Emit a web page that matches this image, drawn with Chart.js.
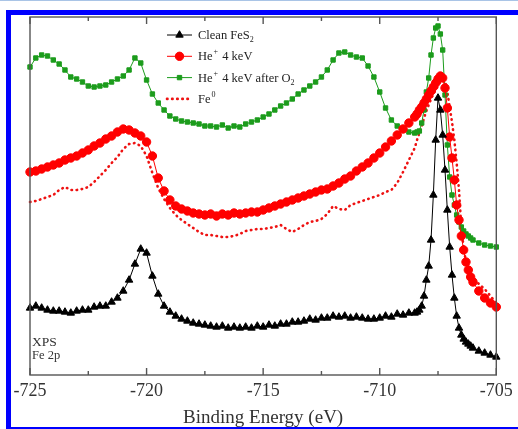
<!DOCTYPE html>
<html>
<head>
<meta charset="utf-8">
<script src="https://cdn.jsdelivr.net/npm/chart.js@4.4.0/dist/chart.umd.min.js"></script>
<style>
html, body { margin: 0; padding: 0; background: #fff; }
#wrap { position: relative; width: 518px; height: 429px; overflow: hidden; }
#topline { position: absolute; left: 0; top: 0; width: 518px; height: 1px; background: #a9c4e6; }
#frame { position: absolute; left: 6px; top: 10px; width: 520px; height: 412px;
  border-left: 5px solid #0000ff; border-top: 5px solid #0000ff; border-bottom: 2px solid #0000ff; pointer-events: none; }
canvas { position: absolute; left: 0; top: 0; }
</style>
</head>
<body>
<div id="wrap">
  <canvas id="xps" width="518" height="429"></canvas>
  <div id="topline"></div>
  <div id="frame"></div>
</div>
<script>
// binding energy grid (eV), shared by all spectra
const energy = [
  -725, -724.75, -724.5, -724.25, -724, -723.75, -723.5, -723.25, -723, -722.75,
  -722.5, -722.25, -722, -721.75, -721.5, -721.25, -721, -720.75, -720.5, -720.25,
  -720, -719.75, -719.5, -719.25, -719, -718.75, -718.5, -718.25, -718, -717.75,
  -717.5, -717.25, -717, -716.75, -716.5, -716.25, -716, -715.75, -715.5, -715.25,
  -715, -714.75, -714.5, -714.25, -714, -713.75, -713.5, -713.25, -713, -712.75,
  -712.5, -712.25, -712, -711.75, -711.5, -711.25, -711, -710.75, -710.5, -710.25,
  -710, -709.75, -709.5, -709.25, -709, -708.75, -708.5,
  -708.4, -708.3, -708.2, -708.1, -708, -707.9, -707.8, -707.7, -707.6, -707.5,
  -707.4, -707.3, -707.2, -707.1, -707, -706.9, -706.8, -706.7, -706.6, -706.5,
  -706.4, -706.3, -706.2, -706.1, -706,
  -705.75, -705.5, -705.25, -705
];

// intensities (arb. units, offset for display)
const cleanFeS2 = [
  67, 69, 67, 65, 64, 64, 63, 62, 64, 65,
  65, 68, 69, 69, 73, 77, 84, 95, 111, 126,
  122, 99, 81, 69, 63, 59, 56, 54, 52, 51,
  50, 49, 48, 49, 47, 48, 47, 48, 47, 49,
  48, 50, 49, 51, 51, 53, 53, 54, 56, 55,
  57, 57, 59, 58, 59, 57, 58, 57, 56, 56,
  57, 59, 58, 61, 60, 62, 62,
  63, 65, 69, 79, 95, 109, 135, 180, 235, 277,
  265, 240, 205, 165, 128, 100, 77, 59, 47, 40,
  36, 33, 31, 29, 27,
  24, 22, 20, 18
];
const heIon = [
  203, 204, 206, 208, 210, 212, 215, 217, 219, 222,
  225, 229, 232, 236, 239, 243, 246, 245, 242, 239,
  233, 219, 197, 184, 175, 169, 166, 164, 162, 161,
  160, 161, 159, 161, 160, 162, 161, 162, 163, 163,
  165, 167, 169, 171, 173, 175, 177, 179, 181, 183,
  185, 186, 189, 192, 196, 199, 204, 208, 212, 217,
  222, 228, 234, 240, 246, 252, 258,
  261, 265, 268, 272, 276, 280, 284, 288, 292, 296,
  299, 297, 287, 267, 238, 217, 195, 170, 155, 139,
  125, 113, 105, 98, 93,
  84, 77, 72, 68
];
const heIonO2 = [
  308, 317, 320, 319, 315, 311, 305, 298, 296, 293,
  289, 288, 289, 290, 293, 296, 299, 305, 317, 312,
  295, 281, 272, 265, 259, 256, 254, 253, 252, 251,
  249, 249, 248, 250, 247, 249, 248, 251, 253, 255,
  258, 261, 265, 269, 272, 276, 281, 285, 289, 293,
  298, 305, 315, 322, 323, 320, 318, 317, 309, 298,
  283, 267, 255, 249, 246, 243, 242,
  243, 244, 252, 265, 283, 297, 320, 337, 347, 349,
  341, 325, 280, 230, 198, 180, 170, 160, 153, 148,
  144, 141, 139, 137, 135,
  132, 130, 129, 128
];
const fe0 = [
  173, 174, 176, 178, 180, 185, 188, 185, 185, 186,
  188, 193, 199, 205, 212, 218, 226, 231, 232, 229,
  219, 202, 187, 176, 167, 160, 155, 151, 147, 143,
  140, 140, 139, 138, 138, 139, 141, 144, 145, 146,
  146, 147, 148, 150, 146, 143, 146, 150, 153, 154,
  156, 161, 169, 166, 165, 170, 172, 174, 176, 178,
  180, 183, 185, 192, 203, 215, 227,
  235, 242, 249, 257, 264, 270, 276, 281, 285, 289,
  293, 295, 294, 283, 268, 253, 235, 212, 185, 147,
  127, 113, 107, 102, 98,
  91, 86, 79, 72
];

const seriesLabels = ['Clean FeS\u2082', 'He\u207A 4 keV', 'He\u207A 4 keV after O\u2082', 'Fe\u2070'];
const xTickLabels = [-725, -720, -715, -710, -705];

const pts = ys => energy.map((e, i) => ({x: e, y: ys[i]}));

// draw label text, turning unicode super/subscripts into small raised/lowered text
function drawRich(ctx, text, x, y) {
  const sup = {'\u207A': '+', '\u2070': '0'};
  const sub = {'\u2082': '2'};
  for (const ch of text) {
    if (sup[ch]) {
      ctx.font = '8px "Liberation Serif"';
      ctx.fillText(sup[ch], x + 1, y - 6);
      x += ctx.measureText(sup[ch]).width + 2;
    } else if (sub[ch]) {
      ctx.font = '8px "Liberation Serif"';
      ctx.fillText(sub[ch], x, y + 3);
      x += ctx.measureText(sub[ch]).width;
    } else {
      ctx.font = '12.5px "Liberation Serif"';
      ctx.fillText(ch, x, y);
      x += ctx.measureText(ch).width;
    }
  }
}

const framePlugin = {
  id: 'frame',
  afterDatasetsDraw(chart) {
    const {ctx, chartArea: a, scales: {x}} = chart;
    ctx.save();
    ctx.strokeStyle = '#555';
    ctx.lineWidth = 1.4;
    ctx.strokeRect(a.left, a.top, a.right - a.left, a.bottom - a.top);
    x.ticks.forEach(t => {
      const px = x.getPixelForValue(t.value);
      const len = xTickLabels.includes(t.value) ? 7 : 4;
      ctx.beginPath();
      ctx.moveTo(px, a.bottom); ctx.lineTo(px, a.bottom - len);
      ctx.moveTo(px, a.top); ctx.lineTo(px, a.top + len);
      ctx.stroke();
    });
    // corner note
    ctx.fillStyle = '#333';
    ctx.font = '13.5px "Liberation Serif"';
    ctx.fillText('XPS', a.left + 2, a.bottom - 29);
    ctx.font = '12.5px "Liberation Serif"';
    ctx.fillText('Fe 2p', a.left + 2, a.bottom - 16);
    ctx.restore();
  }
};

const legendPlugin = {
  id: 'innerLegend',
  afterDraw(chart) {
    const ctx = chart.ctx;
    chart.data.datasets.forEach((ds, i) => {
      const y = 35 + i * 21.3;
      const x0 = 167, x1 = 192;
      ctx.save();
      ctx.strokeStyle = ds.borderColor;
      ctx.fillStyle = ds.backgroundColor;
      ctx.lineWidth = ds.borderWidth;
      ctx.lineCap = ds.borderCapStyle || 'butt';
      ctx.setLineDash(ds.borderDash || []);
      ctx.beginPath();
      ctx.moveTo(x0, y); ctx.lineTo(x1, y);
      ctx.stroke();
      ctx.setLineDash([]);
      ctx.lineCap = 'butt';
      if (ds.pointRadius > 0) {
        ctx.lineWidth = 1;
        Chart.helpers.drawPoint(ctx, {pointStyle: ds.pointStyle, radius: ds.pointRadius, borderWidth: 1, rotation: 0}, (x0 + x1) / 2, y);
      }
      ctx.fillStyle = '#222';
      ctx.textBaseline = 'alphabetic';
      drawRich(ctx, ds.label, 198, y + 4);
      ctx.restore();
    });
  }
};

const ctx = document.getElementById('xps').getContext('2d');
new Chart(ctx, {
  type: 'line',
  data: {
    datasets: [
      {label: seriesLabels[0], data: pts(cleanFeS2), borderColor: '#000', backgroundColor: '#000',
       borderWidth: 1, pointStyle: 'triangle', pointRadius: 4.3, clip: false},
      {label: seriesLabels[1], data: pts(heIon), borderColor: '#ff0000', backgroundColor: '#ff0000',
       borderWidth: 1, pointStyle: 'circle', pointRadius: 4.2, clip: false},
      {label: seriesLabels[2], data: pts(heIonO2), borderColor: '#1c9c1c', backgroundColor: '#1c9c1c',
       borderWidth: 1, pointStyle: 'rect', pointRadius: 3.1, clip: false},
      {label: seriesLabels[3], data: pts(fe0), borderColor: '#ee1111', backgroundColor: '#ee1111',
       borderWidth: 2.6, borderDash: [0.5, 4.6], borderCapStyle: 'round', pointRadius: 0, clip: false}
    ]
  },
  options: {
    responsive: false,
    animation: false,
    devicePixelRatio: 1,
    layout: {padding: {left: 30, right: 18, top: 17, bottom: 0}},
    plugins: {legend: {display: false}, tooltip: {enabled: false}},
    scales: {
      x: {
        type: 'linear', min: -725, max: -705,
        grid: {display: false, drawTicks: false},
        border: {display: false},
        ticks: {
          stepSize: 2.5, autoSkip: false, maxRotation: 0, padding: 5.2, color: '#333',
          font: {family: 'Liberation Serif', size: 18},
          callback: v => xTickLabels.includes(v) ? String(v) : ''
        },
        title: {
          display: true, text: 'Binding Energy (eV)', color: '#333',
          font: {family: 'Liberation Serif', size: 19, lineHeight: 1},
          padding: {top: 1.5, bottom: 1.5}
        }
      },
      y: {display: false, min: 0, max: 358}
    }
  },
  plugins: [framePlugin, legendPlugin]
});
</script>
</body>
</html>
